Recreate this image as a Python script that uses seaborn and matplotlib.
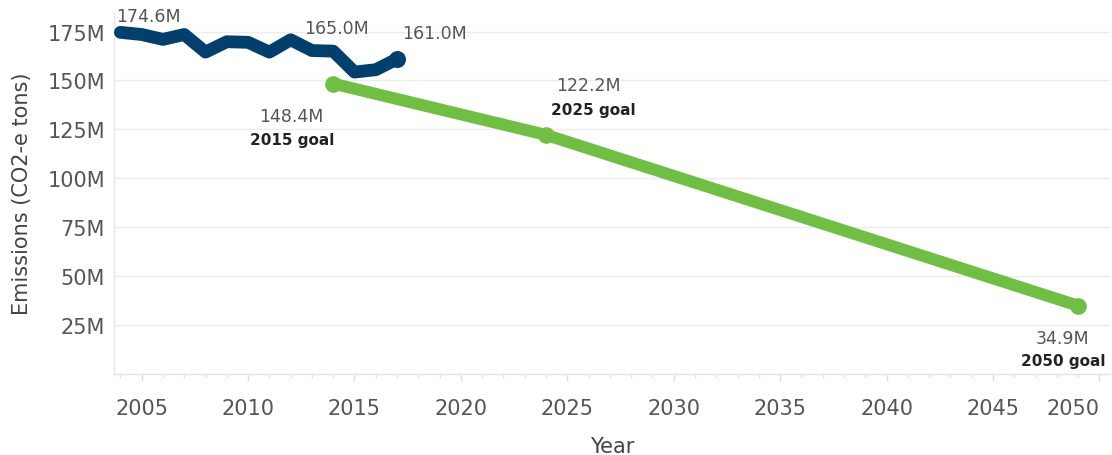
import matplotlib
matplotlib.use("Agg")
import matplotlib.pyplot as plt
import seaborn as sns
import pandas as pd
from matplotlib.ticker import MultipleLocator, FuncFormatter

# ---- data ----
actual_years = [2004, 2005, 2006, 2007, 2008, 2009, 2010, 2011, 2012, 2013, 2014, 2015, 2016, 2017]
actual_values = [174.6, 173.5, 171.0, 173.5, 164.5, 169.8, 169.5, 164.5, 170.8, 165.3, 165.0, 154.3, 155.5, 161.0]
goal_years = [2014, 2024, 2049]
goal_values = [148.4, 122.2, 34.9]
goal_names = ["2015 goal", "2025 goal", "2050 goal"]
y_ticks = [25, 50, 75, 100, 125, 150, 175]
x_ticks = [2005, 2010, 2015, 2020, 2025, 2030, 2035, 2040, 2045, 2050]

BLUE = "#023f6c"
GREEN = "#71be45"

sns.set_theme(style="white")
plt.rcParams["font.family"] = ["DejaVu Sans"]

df_a = pd.DataFrame({"Year": actual_years, "Emissions": actual_values})
df_g = pd.DataFrame({"Year": goal_years, "Emissions": goal_values})

fig = plt.figure(figsize=(11.12, 4.56), dpi=100)
W, H = 1112, 456
ax = fig.add_axes([114 / W, 1 - 375 / H, (1110 - 114) / W, (375 - 13) / H])

sns.lineplot(data=df_g, x="Year", y="Emissions", ax=ax, color=GREEN, linewidth=8.6,
             solid_capstyle="round", marker="o", markersize=12, markeredgewidth=0,
             zorder=3)
sns.lineplot(data=df_a, x="Year", y="Emissions", ax=ax, color=BLUE, linewidth=9.2,
             solid_capstyle="round", solid_joinstyle="round", zorder=4)
sns.scatterplot(x=[actual_years[-1]], y=[actual_values[-1]], ax=ax, color=BLUE,
                s=150, linewidth=0, zorder=5)

ax.set_xlim(2003.70, 2050.50)
ax.set_ylim(0, 185)

# grid
for v in y_ticks:
    ax.axhline(v, color="#ececec", linewidth=1, zorder=0)

ax.set_yticks(y_ticks)
ax.yaxis.set_major_formatter(FuncFormatter(lambda v, p: f"{int(v)}M"))
ax.tick_params(axis="y", length=0, pad=6.5, labelsize=15, labelcolor="#555555")

ax.set_xticks(x_ticks)
ax.xaxis.set_minor_locator(MultipleLocator(1))
ax.tick_params(axis="x", which="major", length=5, width=1, color="#dddddd",
               pad=12.5, labelsize=15, labelcolor="#555555", bottom=True)
ax.tick_params(axis="x", which="minor", length=3, width=1, color="#e3e3e3", bottom=True)
labels = ax.get_xticklabels()
labels[-1].set_horizontalalignment("right")

for s in ["top", "right"]:
    ax.spines[s].set_visible(False)
ax.spines["left"].set_color("#e8e8e8")
ax.spines["bottom"].set_color("#e3e3e3")
ax.spines["left"].set_linewidth(1)
ax.spines["bottom"].set_linewidth(1)

ax.set_xlabel("Year", fontsize=15, color="#444444")
ax.set_ylabel("Emissions (CO2-e tons)", fontsize=15, color="#444444")
ax.xaxis.set_label_coords(0.5, -0.172)
ax.yaxis.set_label_coords(-0.082, 0.5)

# annotations
num_kw = dict(textcoords="offset pixels", fontsize=12.5, color="#555555", va="center", zorder=6)
goal_kw = dict(textcoords="offset pixels", fontsize=11, color="#222222", fontweight="bold",
               va="center", zorder=6)

ax.annotate(f"{actual_values[0]:.1f}M", (actual_years[0], actual_values[0]),
            xytext=(-4, 16), ha="left", **num_kw)
i14 = actual_years.index(2014)
ax.annotate(f"{actual_values[i14]:.1f}M", (actual_years[i14], actual_values[i14]),
            xytext=(3, 23), ha="center", **num_kw)
ax.annotate(f"{actual_values[-1]:.1f}M", (actual_years[-1], actual_values[-1]),
            xytext=(5, 26), ha="left", **num_kw)

num_off = [(-42, -32), (42, 50), (-16, -32)]
name_off = [(-41, -56), (47, 25), (-15, -55)]
for yr, val, name, no, go in zip(goal_years, goal_values, goal_names, num_off, name_off):
    ax.annotate(f"{val:.1f}M", (yr, val), xytext=no, ha="center", **num_kw)
    ax.annotate(name, (yr, val), xytext=go, ha="center", **goal_kw)

fig.savefig("out.png", dpi=100)
